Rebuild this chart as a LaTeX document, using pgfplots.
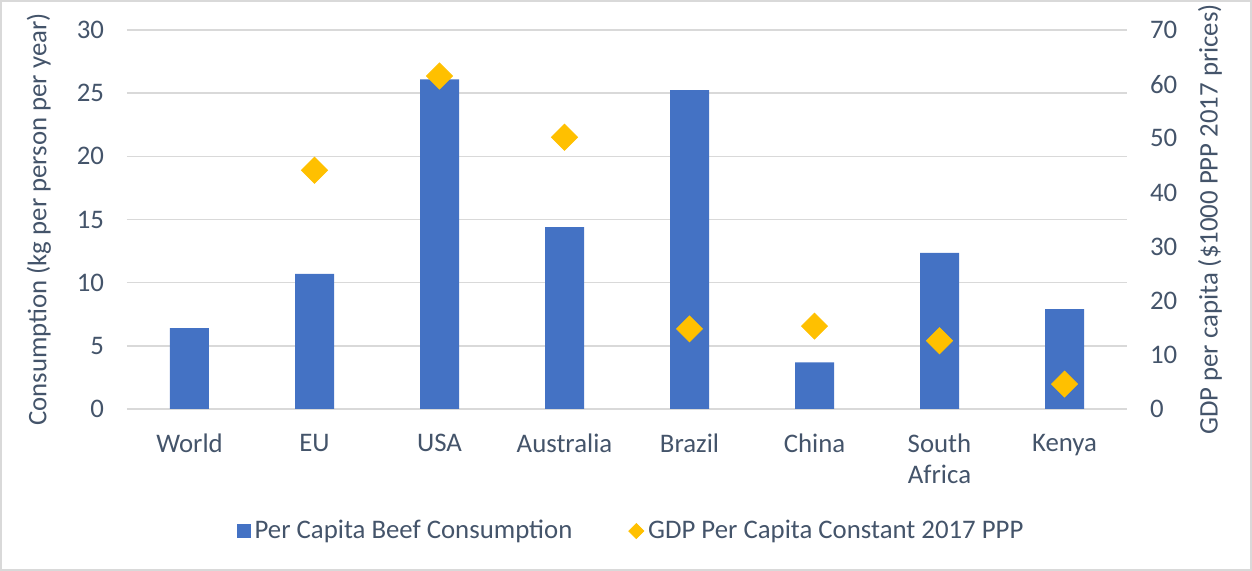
\documentclass[border=0pt]{standalone}
\usepackage{fontspec}
\setmainfont{Carlito}
\usepackage{pgfplots}
\pgfplotsset{compat=1.18}
\definecolor{txt}{RGB}{68,84,106}
\definecolor{barblue}{RGB}{68,114,196}
\definecolor{gold}{RGB}{255,192,0}
\definecolor{gridc}{RGB}{217,217,217}
\begin{document}
\begin{tikzpicture}
\useasboundingbox (0,0) rectangle (626pt,285.5pt);
\draw[gridc, line width=1pt] (0.5pt,0.5pt) rectangle (625.5pt,285pt);
\begin{axis}[
  at={(63.5pt,81pt)}, anchor=south west,
  scale only axis, width=500pt, height=189.5pt,
  xmin=-0.5, xmax=7.5, ymin=0, ymax=30,
  xtick={0,...,7},
  xticklabels={World,EU,USA,Australia,Brazil,China,{South\\Africa},Kenya},
  ytick={0,5,...,30},
  axis line style={draw=none},
  major tick length=0pt,
  ymajorgrids, grid style={gridc, line width=0.7pt},
  /pgf/number format/assume math mode=true,
  tick label style={font=\fontsize{13.4}{15.5}\selectfont, text=txt},
  xticklabel style={align=center, anchor=north, yshift=-9pt},
  yticklabel style={anchor=east, xshift=-8pt},
  ylabel={Consumption (kg per person per year)},
  ylabel style={font=\fontsize{13.4}{15}\selectfont, text=txt, at={(axis description cs:-0.088,0.5)}, anchor=center},
  legend style={at={(0.505,-0.322)}, anchor=center, draw=none, fill=none,
    font=\fontsize{13.4}{15}\selectfont, text=txt, legend columns=2,
    /tikz/every even column/.append style={column sep=26pt}},
]
\addplot[ybar, bar width=19.5pt, fill=barblue, draw=none,
  legend image code/.code={\fill[barblue] (0pt,-3.5pt) rectangle (7pt,3.5pt);}]
  coordinates {(0,6.4) (1,10.7) (2,26.1) (3,14.4) (4,25.25) (5,3.7) (6,12.35) (7,7.9)};
\addlegendentry{Per Capita Beef Consumption}
\addlegendimage{legend image code/.code={\fill[gold] (3.75pt,3.75pt) -- (7.5pt,0pt) -- (3.75pt,-3.75pt) -- (0pt,0pt) -- cycle;}}
\addlegendentry{GDP Per Capita Constant 2017 PPP}
\end{axis}
\begin{axis}[
  at={(63.5pt,81pt)}, anchor=south west,
  scale only axis, width=500pt, height=189.5pt,
  xmin=-0.5, xmax=7.5, ymin=0, ymax=70,
  axis x line=none,
  axis y line*=right,
  axis line style={draw=none},
  major tick length=0pt,
  ytick={0,10,...,70},
  /pgf/number format/assume math mode=true,
  tick label style={font=\fontsize{13.4}{15.5}\selectfont, text=txt},
  yticklabel style={anchor=west, xshift=8pt},
  ylabel={GDP per capita (\$1000 PPP 2017 prices)},
  ylabel style={font=\fontsize{13.4}{15}\selectfont, text=txt, at={(axis description cs:1.083,0.5)}, anchor=center, rotate=0},
]
\addplot[only marks, color=gold, mark=square*, mark size=4.6pt, mark options={rotate=45, fill=gold, draw=gold}]
  coordinates {(1,44.1) (2,61.5) (3,50.2) (4,14.8) (5,15.3) (6,12.6) (7,4.6)};
\end{axis}
\end{tikzpicture}
\end{document}
